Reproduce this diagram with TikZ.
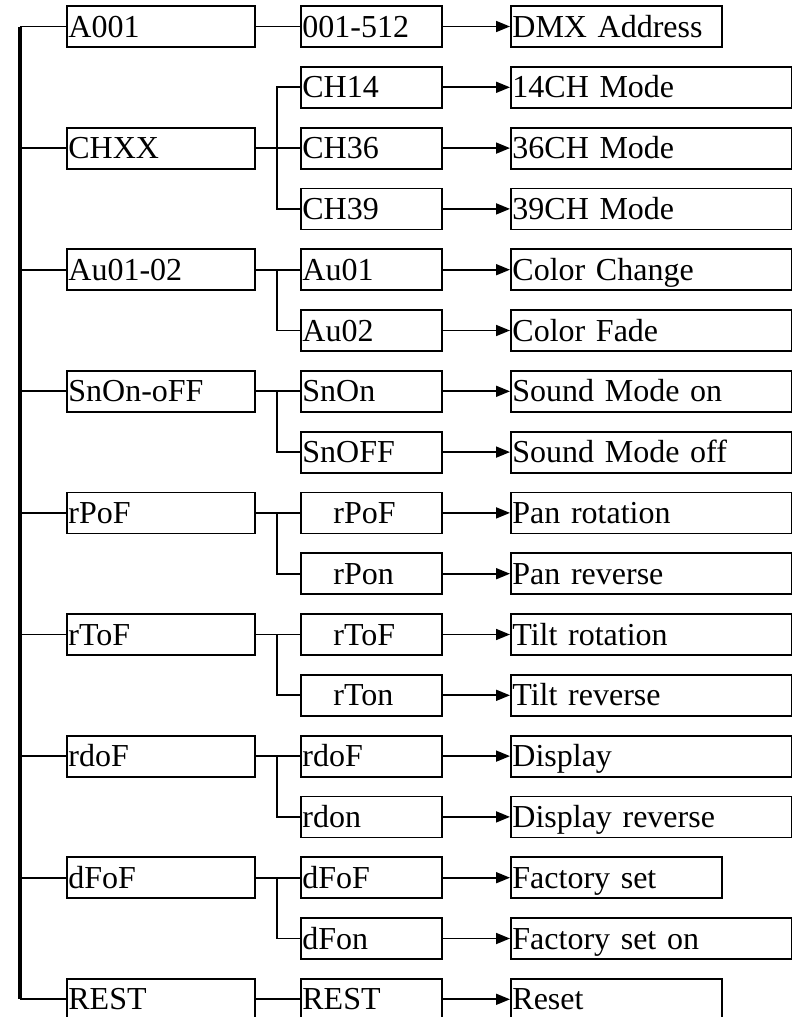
\documentclass[tikz,border=0pt]{standalone}
\usepackage{fontspec}
\setmainfont[WordSpace=2]{Liberation Serif}
\usetikzlibrary{arrows.meta}

\begin{document}
\begin{tikzpicture}[x=1pt,y=-1pt,
  box/.style={draw,line width=1.8pt,anchor=west,minimum height=41pt,inner xsep=1.5pt,inner ysep=0pt,
    text height=21pt,text depth=0pt,align=left,font=\fontsize{32}{36}\selectfont},
  topbox/.style={box,text width=185pt},
  midbox/.style={box,text width=138pt},
  shortbox/.style={box,text width=208pt},
  longbox/.style={box,text width=278pt},
  link/.style={line width=1.7pt},
  feed/.style={link,-{Triangle[length=14pt,width=11pt]}},
  bus/.style={line width=4.5pt}]
\useasboundingbox (0,0) rectangle (792,1017);
\clip (0,0) rectangle (792,1017);
% menu items
\foreach \r/\t in {0/A001,2/CHXX,4/Au01-02,6/SnOn-oFF,8/rPoF,10/rToF,12/rdoF,14/dFoF,16/REST}
  \node[topbox] (t\r) at (66,{26.5+60.8*\r}) {\t};
\foreach \r/\t in {0/001-512,1/CH14,2/CH36,3/CH39,4/Au01,5/Au02,6/SnOn,7/SnOFF,
  8/{\hspace*{31pt}rPoF},9/{\hspace*{31pt}rPon},10/{\hspace*{31pt}rToF},11/{\hspace*{31pt}rTon},
  12/rdoF,13/rdon,14/dFoF,15/dFon,16/REST}
  \node[midbox] (m\r) at (300,{26.5+60.8*\r}) {\t};
\foreach \r/\t/\w in {0/DMX Address/shortbox,1/14CH Mode/longbox,2/36CH Mode/longbox,3/39CH Mode/longbox,
  4/Color Change/longbox,5/Color Fade/longbox,6/Sound Mode on/longbox,7/Sound Mode off/longbox,
  8/Pan rotation/longbox,9/Pan reverse/longbox,10/Tilt rotation/longbox,11/Tilt reverse/longbox,
  12/Display/longbox,13/Display reverse/longbox,14/Factory set/shortbox,15/Factory set on/longbox,
  16/Reset/shortbox}
  \node[\w] (e\r) at (510,{26.5+60.8*\r}) {\t};
% main bus
\coordinate (bus0) at (20,26.5);
\coordinate (bus16) at (20,{26.5+60.8*16});
\draw[bus] (bus0) -- (bus16);
\foreach \r in {0,2,...,16}{
  \draw[link] (t\r.west) -- (t\r.west -| bus0);
  \draw[link] (t\r.east) -- (m\r.west);
}
% sub branches
\draw[link] (m1.west) -- ++(-23,0) |- (m3.west);
\foreach \r/\s in {4/5,6/7,8/9,10/11,12/13,14/15}
  \draw[link] (m\r.west) ++(-23,0) |- (m\s.west);
% results
\foreach \r in {0,...,16}
  \draw[feed] (m\r.east) -- (e\r.west);
\end{tikzpicture}
\end{document}
